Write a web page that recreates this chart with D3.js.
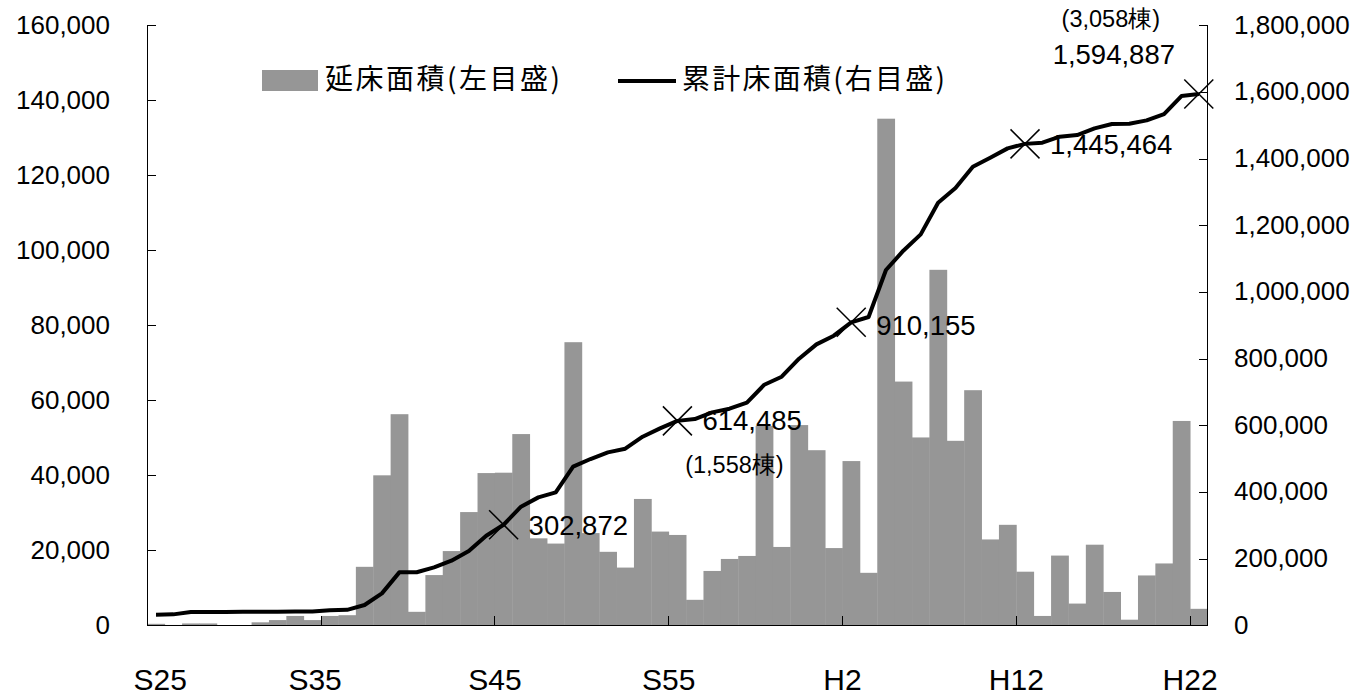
<!DOCTYPE html>
<html>
<head>
<meta charset="utf-8">
<script src="https://cdn.jsdelivr.net/npm/d3@7/dist/d3.min.js"></script>
<style>
  html, body { margin: 0; padding: 0; background: #fff; }
  svg { display: block; }
  .num { font-family: "Liberation Sans", Arial, sans-serif; fill: #000; }
  .jp { font-family: "Noto Sans CJK JP", "Liberation Sans", sans-serif; fill: #000; }
</style>
</head>
<body>
<svg id="chart" width="1357" height="697"></svg>
<script>
// Fiscal years S25 (1950) through H22 (2010)
const showaYears = d3.range(25, 64).map(n => "S" + n);
const heiseiYears = d3.range(1, 23).map(n => "H" + n);
const years = showaYears.concat(heiseiYears);

// Floor area built each year (m², left scale)
const floorArea = [
  500, 200, 600, 600, 100, 100, 900, 1500, 2600, 1500,
  2600, 2800, 15700, 40100, 56400, 3700, 13500, 19900, 30300, 40700,
  40800, 51100, 23300, 21900, 75600, 24700, 19700, 15500, 33800, 25100,
  24200, 6900, 14600, 17800, 18600, 53300, 21000, 53500, 46800, 20700,
  43900, 14100, 135200, 65100, 50200, 94900, 49300, 62800, 23000, 26900,
  14400, 2600, 18700, 5900, 21600, 9000, 1600, 13400, 16600, 54600,
  4500
];

// Cumulative floor area (m², right scale)
const cumulativeArea = [
  33000, 34000, 41000, 41200, 41400, 41600, 41800, 42000, 42300, 42600,
  46500, 47500, 62000, 97000, 160000, 160500, 175000, 195000, 224000, 270000,
  302872, 357000, 385000, 400000, 477000, 500000, 520000, 531000, 567000, 592000,
  614485, 620000, 640000, 651000, 669000, 723000, 747000, 801000, 844000, 870000,
  910155, 926000, 1067000, 1125000, 1174000, 1269000, 1313000, 1377000, 1404000, 1432000,
  1445464, 1449000, 1467000, 1472000, 1492000, 1505000, 1506000, 1516000, 1535000, 1589000,
  1594887
];

// Axis tick labels
const xTickLabels = ["S25", "S35", "S45", "S55", "H2", "H12", "H22"];
const leftTicks = [0, 20000, 40000, 60000, 80000, 100000, 120000, 140000, 160000];
const rightTicks = [0, 200000, 400000, 600000, 800000, 1000000, 1200000, 1400000, 1600000, 1800000];

// Highlighted years and building counts
const markedYears = ["S45", "S55", "H2", "H12", "H22"];
const buildingYears = ["S55", "H22"];
const buildingCounts = [1558, 3058];

const legendLabels = ["延床面積(左目盛)", "累計床面積(右目盛)"];

const svg = d3.select("#chart");
const plot = { left: 147.3, right: 1207.5, top: 25.7, bottom: 625.7 };
const fmt = d3.format(",");

const x = d3.scaleBand().domain(years).range([plot.left, plot.right]).padding(0);
const yL = d3.scaleLinear().domain([0, 160000]).range([plot.bottom, plot.top]);
const yR = d3.scaleLinear().domain([0, 1800000]).range([plot.bottom, plot.top]);
const bw = x.bandwidth();
const cx = yr => x(yr) + bw / 2;

// Bars
svg.append("g").selectAll("rect")
  .data(years)
  .join("rect")
  .attr("x", d => x(d))
  .attr("width", bw + 0.4)
  .attr("y", (d, i) => yL(floorArea[i]))
  .attr("height", (d, i) => plot.bottom - yL(floorArea[i]))
  .attr("fill", "#969696");

// Axes frame
const axes = svg.append("g").attr("stroke", "#000").attr("stroke-width", 1).attr("shape-rendering", "crispEdges");
axes.append("line").attr("x1", plot.left).attr("x2", plot.left).attr("y1", plot.top).attr("y2", plot.bottom);
axes.append("line").attr("x1", plot.right).attr("x2", plot.right).attr("y1", plot.top).attr("y2", plot.bottom);
axes.append("line").attr("x1", plot.left).attr("x2", plot.right).attr("y1", plot.bottom).attr("y2", plot.bottom);

// Left ticks and labels
axes.selectAll(".lt").data(leftTicks).join("line")
  .attr("x1", plot.left).attr("x2", plot.left + 9)
  .attr("y1", d => yL(d)).attr("y2", d => yL(d));
svg.append("g").selectAll("text").data(leftTicks).join("text")
  .attr("class", "num")
  .attr("x", 110).attr("y", d => yL(d) + 1)
  .attr("text-anchor", "end").attr("dominant-baseline", "middle")
  .attr("font-size", 26)
  .text(d => fmt(d));

// Right ticks and labels
axes.selectAll(".rt").data(rightTicks).join("line")
  .attr("x1", plot.right - 9).attr("x2", plot.right)
  .attr("y1", d => yR(d)).attr("y2", d => yR(d));
svg.append("g").selectAll("text").data(rightTicks).join("text")
  .attr("class", "num")
  .attr("x", 1234).attr("y", d => yR(d) + 1)
  .attr("text-anchor", "start").attr("dominant-baseline", "middle")
  .attr("font-size", 26)
  .text(d => fmt(d));

// Bottom ticks every ten years (between categories)
axes.selectAll(".bt").data(xTickLabels.slice(1)).join("line")
  .attr("x1", d => x(d)).attr("x2", d => x(d))
  .attr("y1", plot.bottom - 10).attr("y2", plot.bottom);

// Category labels; the first two sit slightly off their tick
const xLabelShift = { "S25": 13, "S35": -6 };
svg.append("g").selectAll("text").data(xTickLabels).join("text")
  .attr("class", "num")
  .attr("x", d => x(d) + (xLabelShift[d] || 0))
  .attr("y", 690)
  .attr("text-anchor", "middle")
  .attr("font-size", 30)
  .text(d => d);

// Cumulative line
const line = d3.line()
  .x((d, i) => cx(years[i]))
  .y(d => yR(d));
svg.append("path")
  .datum(cumulativeArea)
  .attr("d", line)
  .attr("fill", "none")
  .attr("stroke", "#000")
  .attr("stroke-width", 4)
  .attr("stroke-linejoin", "round");

// Cross markers on highlighted years
const markers = svg.append("g").attr("stroke", "#000").attr("stroke-width", 1.5);
markedYears.forEach(yr => {
  const px = cx(yr), py = yR(cumulativeArea[years.indexOf(yr)]);
  const s = 14.5;
  markers.append("line").attr("x1", px - s).attr("y1", py - s).attr("x2", px + s).attr("y2", py + s);
  markers.append("line").attr("x1", px - s).attr("y1", py + s).attr("x2", px + s).attr("y2", py - s);
});

// Value labels for highlighted years
const valueLabelOffset = {
  "S45": [25, 3, "start"],
  "S55": [25, 2, "start"],
  "H2":  [25, 5, "start"],
  "H12": [25, 3, "start"],
  "H22": [-85, -37, "middle"]
};
svg.append("g").selectAll("text").data(markedYears).join("text")
  .attr("class", "num")
  .attr("x", d => cx(d) + valueLabelOffset[d][0])
  .attr("y", d => yR(cumulativeArea[years.indexOf(d)]) + valueLabelOffset[d][1])
  .attr("text-anchor", d => valueLabelOffset[d][2])
  .attr("dominant-baseline", "middle")
  .attr("font-size", 27.5)
  .text(d => fmt(cumulativeArea[years.indexOf(d)]));

// Building counts
const countOffset = { "S55": [57, 46], "H22": [-88, -73] };
svg.append("g").selectAll("text").data(buildingYears).join("text")
  .attr("class", "num")
  .attr("x", d => cx(d) + countOffset[d][0])
  .attr("y", d => yR(cumulativeArea[years.indexOf(d)]) + countOffset[d][1])
  .attr("text-anchor", "middle")
  .attr("dominant-baseline", "middle")
  .attr("font-size", 23.5)
  .text((d, i) => "(" + fmt(buildingCounts[i]) + "棟)");

// Legend
const legend = svg.append("g");
legend.append("rect").attr("x", 262).attr("y", 70).attr("width", 56).attr("height", 21).attr("fill", "#969696");
legend.append("text").attr("class", "jp").attr("x", 325).attr("y", 81)
  .attr("dominant-baseline", "middle").attr("font-size", 28)
  .attr("textLength", 235).attr("lengthAdjust", "spacing")
  .text(legendLabels[0]);
legend.append("line").attr("x1", 618).attr("x2", 676).attr("y1", 81).attr("y2", 81)
  .attr("stroke", "#000").attr("stroke-width", 4);
legend.append("text").attr("class", "jp").attr("x", 682).attr("y", 81)
  .attr("dominant-baseline", "middle").attr("font-size", 28)
  .attr("textLength", 263).attr("lengthAdjust", "spacing")
  .text(legendLabels[1]);
</script>
</body>
</html>
